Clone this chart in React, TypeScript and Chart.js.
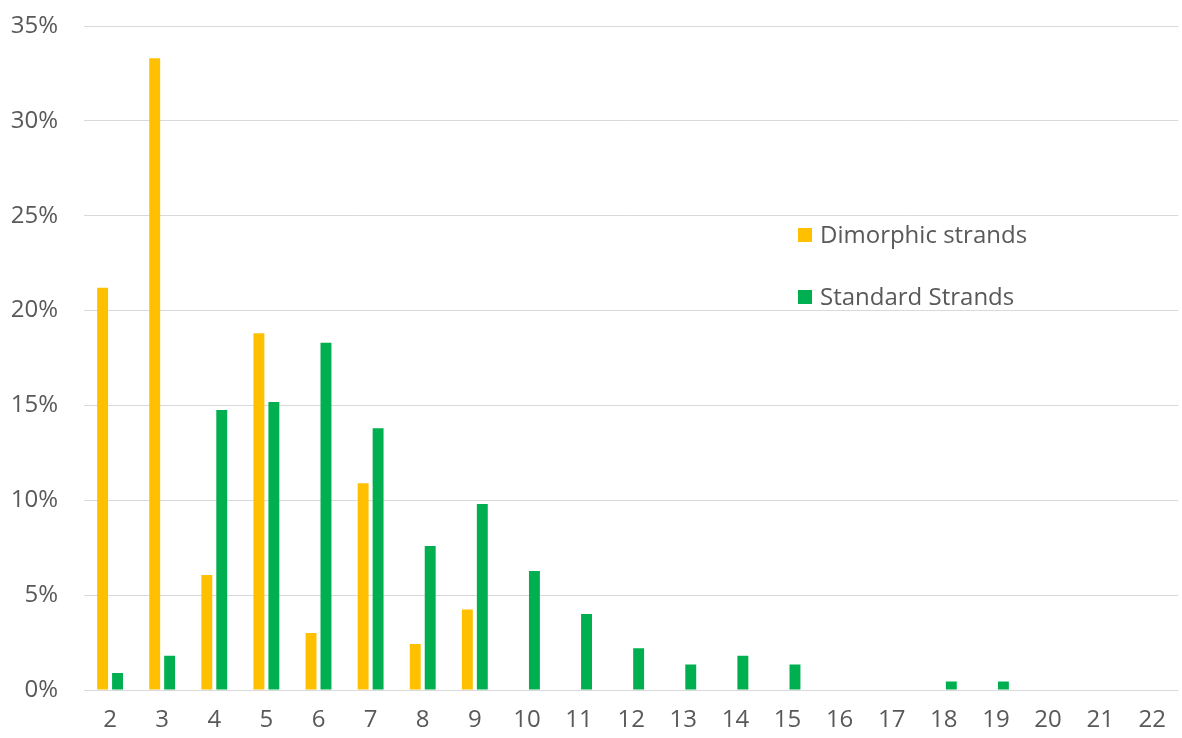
import { useEffect, useRef } from "react";
import { Chart, registerables } from "chart.js";

Chart.register(...registerables);

// Number of strands per category
const strandCounts = [
  "2", "3", "4", "5", "6", "7", "8", "9", "10", "11", "12",
  "13", "14", "15", "16", "17", "18", "19", "20", "21", "22",
];

// Share of each strand count, in percent
const dimorphicShare = [
  21.2, 33.3, 6.06, 18.8, 3.0, 10.9, 2.42, 4.24, 0, 0, 0,
  0, 0, 0, 0, 0, 0, 0, 0, 0, 0,
];
const standardShare = [
  0.9, 1.8, 14.76, 15.18, 18.3, 13.8, 7.59, 9.8, 6.27, 4.0, 2.2,
  1.35, 1.8, 1.35, 0, 0, 0.45, 0.45, 0, 0, 0,
];

const seriesNames = ["Dimorphic strands", "Standard Strands"];
const seriesColors = ["#FFC000", "#00B050"];

const yMin = 0;
const yMax = 35;
const yStep = 5;

const FONT = "'Open Sans', 'DejaVu Sans', sans-serif";
const TEXT_COLOR = "#595959";
const GRID_COLOR = "#D9D9D9";

// Legend drawn inside the plot area, to the right
const insideLegend = {
  id: "insideLegend",
  afterDraw(chart: any) {
    const { ctx } = chart;
    const x = 798;
    const rows = [235, 297];
    ctx.save();
    ctx.font = `24px ${FONT}`;
    ctx.textBaseline = "middle";
    ctx.textAlign = "left";
    chart.data.datasets.forEach((ds: any, i: number) => {
      const y = rows[i];
      ctx.fillStyle = ds.backgroundColor;
      ctx.fillRect(x, y - 7, 14, 14);
      ctx.fillStyle = TEXT_COLOR;
      ctx.fillText(ds.label, x + 22, y + 1);
    });
    ctx.restore();
  },
};

export default function App() {
  const canvasRef = useRef<HTMLCanvasElement | null>(null);

  useEffect(() => {
    document.body.style.margin = "0";
    const canvas = canvasRef.current;
    if (!canvas) return;

    const chart = new Chart(canvas, {
      type: "bar",
      data: {
        labels: strandCounts,
        datasets: [
          {
            label: seriesNames[0],
            data: dimorphicShare,
            backgroundColor: seriesColors[0],
            borderWidth: 0,
          },
          {
            label: seriesNames[1],
            data: standardShare,
            backgroundColor: seriesColors[1],
            borderWidth: 0,
          },
        ],
      },
      options: {
        responsive: false,
        animation: false,
        devicePixelRatio: 1,
        layout: { padding: { top: 26, right: 0, bottom: 0, left: 0 } },
        datasets: {
          bar: { categoryPercentage: 0.574, barPercentage: 0.73 },
        },
        plugins: {
          legend: { display: false },
          tooltip: { enabled: false },
        },
        scales: {
          x: {
            grid: { display: false, drawTicks: false },
            border: { display: false },
            ticks: {
              color: TEXT_COLOR,
              font: { family: FONT, size: 24 },
              padding: 16,
              maxRotation: 0,
              autoSkip: false,
            },
            afterFit(scale: any) {
              scale.height = 48;
            },
          },
          y: {
            min: yMin,
            max: yMax,
            grid: {
              color: GRID_COLOR,
              lineWidth: 1,
              drawTicks: true,
              tickLength: 26,
              tickColor: "rgba(0,0,0,0)",
            },
            border: { display: false },
            ticks: {
              stepSize: yStep,
              color: TEXT_COLOR,
              font: { family: FONT, size: 24 },
              padding: 0,
              callback: (v: any) => `${v}%`,
            },
            afterFit(scale: any) {
              scale.width = 84;
            },
          },
        },
      },
      plugins: [insideLegend],
    });

    return () => chart.destroy();
  }, []);

  return (
    <div style={{ width: 1182, height: 738, background: "#fff" }}>
      <canvas ref={canvasRef} width={1182} height={738} />
    </div>
  );
}
